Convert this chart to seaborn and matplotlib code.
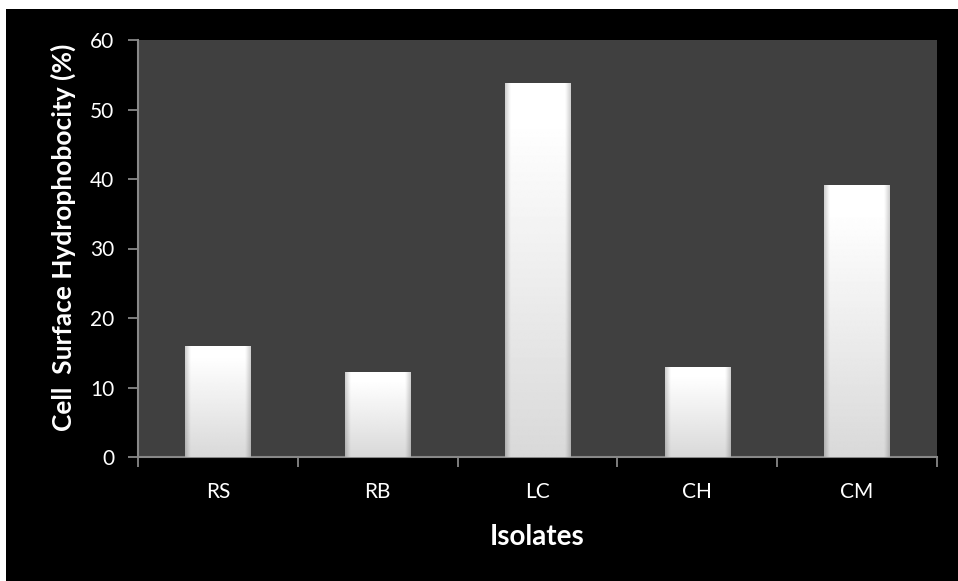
import numpy as np
import pandas as pd
import matplotlib
matplotlib.use("Agg")
import matplotlib.pyplot as plt
import seaborn as sns
from matplotlib.patches import Rectangle
from matplotlib.ticker import FixedLocator

categories = ["RS", "RB", "LC", "CH", "CM"]
values = [16.0, 12.2, 53.8, 12.9, 39.2]
yticks = [0, 10, 20, 30, 40, 50, 60]

df = pd.DataFrame({"Isolate": categories, "CSH": values})

sns.set_theme(style="white")
plt.rcParams['font.family'] = ['Lato', 'DejaVu Sans']

fig = plt.figure(figsize=(9.58, 5.81), dpi=100)
fig.patch.set_facecolor("white")
# black slide background
fig.patches.append(Rectangle((6 / 958, 0), 1, 1 - 9 / 581, transform=fig.transFigure,
                             facecolor="black", edgecolor="none", zorder=-10))
ax = fig.add_axes([138 / 958, 1 - 457 / 581, (937 - 138) / 958, (457 - 40) / 581])
ax.set_facecolor("#404040")

sns.barplot(data=df, x="Isolate", y="CSH", ax=ax, color="white", width=0.41,
            edgecolor="none", saturation=1)

# gradient shading for each bar
ny, nx = 300, 60
yy = np.linspace(0, 1, ny)[:, None]
xx = np.linspace(0, 1, nx)[None, :]
vert = 1.0 - 0.15 * np.clip((yy - 0.1) / 0.9, 0, 1)  # white top -> gray bottom (row 0 = top)
edge = np.minimum(xx, 1 - xx)
horiz = 1.0 - 0.18 * np.clip(1 - edge / 0.08, 0, 1)
img = np.clip(vert * horiz, 0, 1)
for patch in ax.patches:
    x0, y0 = patch.get_x(), patch.get_y()
    w, h = patch.get_width(), patch.get_height()
    im = ax.imshow(img, cmap="gray", vmin=0, vmax=1, aspect="auto",
                   extent=[x0, x0 + w, y0, y0 + h], origin="upper", zorder=3,
                   interpolation="bilinear")
    im.set_clip_path(patch)

ax.set_xlim(-0.5, len(categories) - 0.5)
ax.set_ylim(0, 60)
ax.set_yticks(yticks)
ax.set_yticklabels([str(t) for t in yticks])

# Excel-style ticks between categories
ax.xaxis.set_major_locator(FixedLocator(np.arange(-0.5, len(categories), 1.0)))
ax.xaxis.set_minor_locator(FixedLocator(np.arange(len(categories))))
ax.set_xticklabels([], minor=False)
ax.set_xticklabels(categories, minor=True)
ax.tick_params(axis="x", which="major", length=7, width=1.3, color="#888888", direction="out", bottom=True)
ax.tick_params(axis="x", which="minor", length=0, labelsize=15, labelcolor="white", pad=18, bottom=True)
ax.tick_params(axis="y", length=7, width=1.3, color="#888888", direction="out", left=True,
               labelsize=15, labelcolor="white", pad=10)

for s in ["top", "right"]:
    ax.spines[s].set_visible(False)
for s in ["left", "bottom"]:
    ax.spines[s].set_visible(True)
    ax.spines[s].set_color("#888888")
    ax.spines[s].set_linewidth(1.5)

ax.set_xlabel("Isolates", fontsize=20, fontweight="bold", color="white", va="center")
ax.xaxis.set_label_coords(0.5, -0.192)
ax.set_ylabel("Cell  Surface Hydrophobocity (%)", fontsize=19, fontweight="bold",
              color="white", va="center")
ax.yaxis.set_label_coords(-0.094, 0.528)

fig.savefig("out.png", dpi=100, facecolor=fig.get_facecolor())
